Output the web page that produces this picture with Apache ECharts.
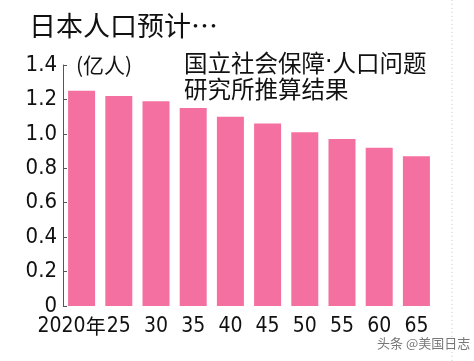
<!DOCTYPE html>
<html><head><meta charset="utf-8">
<script src="https://cdn.jsdelivr.net/npm/echarts@6/dist/echarts.min.js"></script>
<style>html,body{margin:0;padding:0;background:#fff}#c{width:474px;height:361px}</style>
</head><body><div id="c"></div>
<script>
const categories = ['2020年','25','30','35','40','45','50','55','60','65'];
const population = [1.25,1.22,1.19,1.15,1.10,1.06,1.01,0.97,0.92,0.87];
const yTicks = {min:0, max:1.4, interval:0.2};
const titleText = '日本人口预计…';
const unitText = '(亿人)';
const noteLine1 = ['国立社会保障','人口问题'];
const noteLine2 = '研究所推算结果';
const watermark = '头条 @美国日志';

const numFont = '"Liberation Sans Narrow","DejaVu Sans Condensed","Liberation Sans",sans-serif';
const cjkFont = '"Noto Sans CJK SC",sans-serif';
const chart = echarts.init(document.getElementById('c'));
chart.setOption({
  backgroundColor:'#fff',
  animation:false,
  title:{text:titleText,left:24,top:7,textStyle:{fontFamily:cjkFont,fontSize:27,fontWeight:'normal',color:'#111'}},
  grid:{left:63,right:39,top:65,bottom:55},
  xAxis:{type:'category',data:categories,
    axisLine:{show:false},axisTick:{show:false},
    axisLabel:{margin:10,color:'#111',fontFamily:numFont,fontSize:21,interval:0,
      formatter:(v,i)=> i===0 ? '{a|'+v.slice(0,4)+'}{b|'+v.slice(4)+'}' : v,
      rich:{a:{fontFamily:numFont,fontSize:21,color:'#111'},
            b:{fontFamily:cjkFont,fontSize:20,color:'#111',padding:[0,20,0,0]}}}},
  yAxis:{type:'value',min:yTicks.min,max:yTicks.max,interval:yTicks.interval,
    splitLine:{show:false},
    axisLine:{show:true,lineStyle:{color:'#555',width:1}},
    axisTick:{show:true,inside:true,length:4,lineStyle:{color:'#555'}},
    axisLabel:{margin:6,color:'#111',fontFamily:numFont,fontSize:22,
      formatter:v=> v===0 ? '0' : v.toFixed(1)}},
  series:[{type:'bar',data:population,barWidth:27,itemStyle:{color:'#f470a0'}}],
  graphic:[
    {type:'text',left:76,top:55,style:{text:unitText,fontFamily:cjkFont,fontSize:21,fill:'#111'}},
    {type:'text',left:184,top:51,style:{
      text:'{c|'+noteLine1[0]+'}{d|·}{c|'+noteLine1[1]+'}\n{c|'+noteLine2+'}',
      rich:{c:{fontFamily:cjkFont,fontSize:23.5,lineHeight:26,fill:'#111',color:'#111'},
            d:{fontFamily:'"DejaVu Sans",sans-serif',fontSize:23.5,lineHeight:26,color:'#111'}}}},
    {type:'line',shape:{x1:452,y1:0,x2:452,y2:361},style:{stroke:'#ccc',lineWidth:1,lineDash:[1,3]}},
    {type:'text',left:377,top:337,style:{text:watermark,fontFamily:cjkFont,fontSize:13,fill:'#777'}}
  ]
});
</script></body></html>
